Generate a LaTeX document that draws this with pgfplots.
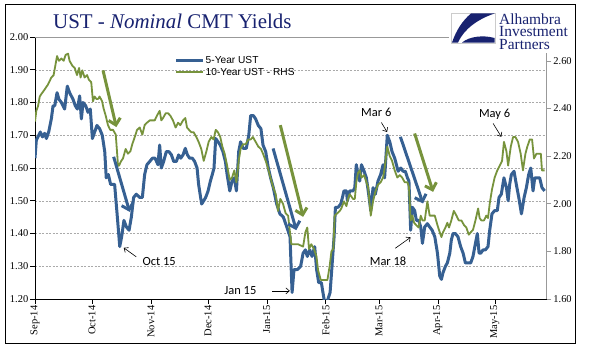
\documentclass[border=0pt]{standalone}
\usepackage{pgfplots}
\pgfplotsset{compat=1.18}
\usepackage{pgfplotstable}
\usepackage{fontspec}
\setmainfont{Liberation Serif}
\newfontfamily\legf{Liberation Sans}
\newfontfamily\annf{Carlito}
\usetikzlibrary{arrows.meta}
\definecolor{navy}{RGB}{24,34,112}
\definecolor{ublue}{RGB}{54,96,146}
\definecolor{ugreen}{RGB}{119,147,60}
\definecolor{gridc}{RGB}{170,170,170}

\pgfplotstableread{
d v
0 1.63
0.7 1.685
2.8 1.71
3.9 1.695
5.1 1.706
6.0 1.69
7.2 1.71
8.6 1.75
9.5 1.79
10.4 1.79
11.6 1.83
12.6 1.81
13.9 1.80
15.6 1.78
17.0 1.85
18.2 1.83
20.0 1.81
21.2 1.79
22.3 1.78
23.5 1.82
24.4 1.75
25.3 1.80
26.7 1.79
27.9 1.77
29.1 1.78
30.2 1.69
31.4 1.71
32.6 1.73
34.0 1.72
35.4 1.70
36.7 1.65
37.5 1.57
38.6 1.58
39.8 1.55
41.9 1.55
43.2 1.46
44.6 1.36
45.6 1.39
46.8 1.44
48.1 1.42
49.5 1.41
50.7 1.45
51.9 1.51
53.3 1.52
55.1 1.51
56.5 1.51
57.7 1.58
58.9 1.61
60.4 1.62
61.8 1.63
63.2 1.63
64.7 1.61
65.6 1.67
66.5 1.60
67.7 1.62
69.1 1.65
70.5 1.65
71.8 1.64
73.0 1.62
74.4 1.62
75.6 1.64
76.7 1.63
77.9 1.64
79.1 1.66
80.2 1.64
81.4 1.63
82.8 1.63
84.0 1.62
85.3 1.60
86.1 1.55
87.7 1.49
88.8 1.50
89.8 1.51
91.1 1.53
92.3 1.56
93.3 1.58
94.2 1.60
95.1 1.69
96.3 1.68
97.5 1.67
98.9 1.65
100.2 1.62
101.1 1.58
102.5 1.53
103.7 1.56
104.9 1.57
106.0 1.53
107.2 1.65
108.2 1.68
109.5 1.66
111.2 1.66
112.5 1.70
113.5 1.76
114.9 1.76
116.1 1.75
117.5 1.73
118.9 1.72
120.0 1.67
121.4 1.65
122.8 1.60
124.0 1.57
125.4 1.54
127.2 1.49
128.9 1.46
130.7 1.45
132.5 1.42
134.2 1.39
135.3 1.22
136.3 1.29
138.1 1.29
139.8 1.30
141.1 1.34
142.3 1.35
143.3 1.33
144.6 1.35
145.8 1.33
147.2 1.36
148.2 1.29
149.3 1.25
150.7 1.25
152.1 1.20
153.2 1.18
154.2 1.20
155.3 1.22
156.3 1.30
157.4 1.39
158.1 1.48
159.5 1.48
160.9 1.49
161.8 1.51
162.6 1.53
163.9 1.53
164.4 1.50
165.6 1.53
167.4 1.53
168.3 1.54
169.1 1.61
170.0 1.58
170.9 1.56
171.8 1.61
173.2 1.59
174.4 1.57
175.6 1.52
176.7 1.47
177.9 1.54
179.1 1.52
180.5 1.56
181.9 1.58
183.2 1.61
184.0 1.57
185.4 1.70
186.7 1.68
187.9 1.65
189.3 1.63
191.1 1.59
192.5 1.60
193.7 1.59
194.9 1.59
196.0 1.57
196.8 1.56
197.7 1.41
198.6 1.48
199.8 1.47
200.7 1.44
201.9 1.44
203.0 1.42
203.9 1.37
205.1 1.42
206.5 1.43
207.7 1.42
209.0 1.41
210.4 1.39
211.8 1.34
213.0 1.27
213.9 1.26
214.7 1.28
216.0 1.30
217.0 1.31
218.3 1.34
219.1 1.38
220.0 1.40
221.2 1.40
222.6 1.39
224.0 1.36
225.3 1.34
226.5 1.31
227.9 1.31
229.3 1.31
230.5 1.33
231.8 1.37
232.8 1.40
233.7 1.34
234.6 1.34
235.8 1.35
237.0 1.35
238.4 1.36
239.3 1.41
240.5 1.46
241.9 1.47
243.3 1.47
244.2 1.51
245.4 1.52
246.8 1.57
248.1 1.54
249.0 1.50
249.8 1.55
250.7 1.58
252.1 1.59
253.3 1.55
254.6 1.51
256.0 1.46
257.4 1.51
258.6 1.54
259.8 1.58
260.9 1.60
262.1 1.53
263.0 1.57
264.4 1.57
265.6 1.57
266.8 1.54
268.2 1.53
}\fiveyr

\pgfplotstableread{
d v
0 2.345
0.7 2.39
1.6 2.41
2.5 2.45
3.3 2.46
5.1 2.48
6.8 2.50
8.6 2.53
9.8 2.54
10.7 2.58
11.6 2.62
12.6 2.60
13.9 2.61
15.1 2.60
16.1 2.625
17.4 2.63
18.2 2.60
19.6 2.58
20.9 2.57
22.1 2.54
23.2 2.57
24.0 2.53
24.9 2.56
26.1 2.53
27.4 2.54
28.4 2.52
29.6 2.51
30.5 2.43
31.4 2.45
32.3 2.44
33.2 2.44
34.0 2.45
35.3 2.43
36.1 2.40
37.2 2.37
38.4 2.33
39.6 2.31
41.1 2.31
42.5 2.29
43.7 2.16
44.2 2.16
45.4 2.18
46.3 2.19
47.7 2.23
48.9 2.21
50.2 2.22
51.2 2.25
52.5 2.28
53.7 2.31
55.1 2.32
56.5 2.29
57.7 2.33
58.9 2.34
60.4 2.35
61.8 2.35
63.0 2.35
64.2 2.37
65.6 2.39
66.5 2.35
67.4 2.36
68.8 2.38
70.0 2.38
71.2 2.37
72.6 2.35
74.0 2.32
75.3 2.34
76.5 2.33
77.9 2.35
79.1 2.36
80.0 2.32
81.1 2.31
82.3 2.30
83.5 2.30
84.9 2.28
86.1 2.26
87.5 2.23
88.8 2.18
90.2 2.22
91.4 2.26
92.8 2.28
94.0 2.27
95.1 2.31
96.3 2.30
97.5 2.28
98.6 2.24
99.8 2.21
101.1 2.16
102.5 2.10
103.7 2.11
104.9 2.14
106.0 2.09
107.2 2.18
108.2 2.23
109.5 2.25
110.9 2.25
112.3 2.27
113.5 2.27
114.7 2.28
116.1 2.26
117.5 2.24
118.9 2.23
120.0 2.21
121.4 2.18
122.6 2.15
123.9 2.11
125.3 2.07
126.7 2.04
127.9 1.97
129.1 2.02
130.5 2.00
131.9 1.96
133.2 1.95
134.9 1.83
136.3 1.83
138.4 1.83
141.1 1.82
142.3 1.88
143.3 1.90
144.2 1.81
145.4 1.83
146.8 1.81
148.1 1.78
149.0 1.72
150.4 1.68
152.5 1.68
153.9 1.68
155.1 1.74
156.0 1.80
157.0 1.81
157.7 1.95
159.1 1.96
160.4 1.97
161.2 1.98
162.6 2.01
163.9 1.99
164.7 2.02
165.6 2.04
167.4 2.02
168.3 2.02
169.1 2.09
170.0 2.13
170.9 2.14
171.8 2.11
173.2 2.12
174.4 2.09
175.3 2.07
176.7 1.95
177.9 2.01
179.1 2.05
180.5 2.08
181.9 2.09
183.2 2.11
184.0 2.15
185.4 2.24
186.7 2.20
187.9 2.18
189.3 2.14
190.7 2.11
191.9 2.12
193.2 2.11
194.6 2.09
196.0 2.09
196.8 2.07
197.7 1.93
198.6 1.95
199.5 1.92
200.7 1.91
201.9 1.90
203.0 1.95
203.9 1.93
205.1 1.93
206.5 2.01
207.7 1.95
209.0 1.95
210.4 1.95
211.8 1.91
213.0 1.88
213.9 1.86
214.7 1.88
216.0 1.90
217.0 1.92
217.9 1.90
219.1 1.93
220.4 1.97
221.8 1.95
223.0 1.93
224.4 1.93
225.8 1.91
227.0 1.90
228.3 1.87
229.3 1.88
230.5 1.89
231.8 1.93
233.2 1.98
234.0 1.94
234.9 1.93
236.3 1.93
237.5 1.95
238.4 1.94
239.3 2.00
240.5 2.06
241.9 2.11
243.3 2.14
244.6 2.16
245.8 2.18
246.8 2.26
248.1 2.22
249.0 2.16
250.4 2.24
251.6 2.28
252.8 2.28
254.2 2.26
255.6 2.21
256.8 2.14
258.1 2.21
259.1 2.24
260.4 2.27
261.6 2.27
262.6 2.19
263.9 2.21
265.1 2.21
266.2 2.21
266.8 2.14
268.2 2.14
}\tenyr

\begin{document}
\begin{tikzpicture}[x=1bp,y=1bp]
\path[use as bounding box] (0,0) rectangle (598,361);
\fill[white] (0,0) rectangle (598,361);

\begin{axis}[
  at={(35bp,62bp)}, anchor=south west, scale only axis,
  width=511.7bp, height=262bp,
  xmin=0, xmax=269.3, ymin=1.2, ymax=2.0,
  axis x line*=bottom, axis y line*=left,
  axis line style={-, black, line width=0.8bp},
  tick align=outside, major tick length=4.5bp,
  tick style={black, line width=0.6bp},
  xtick={0,30,61,91,122,153,181,212,242},
  xticklabels={Sep-14,Oct-14,Nov-14,Dec-14,Jan-15,Feb-15,Mar-15,Apr-15,May-15},
  x tick label style={rotate=90, anchor=east, font=\fontsize{10.5}{11}\selectfont, inner sep=2bp},
  ytick={1.2,1.3,1.4,1.5,1.6,1.7,1.8,1.9,2.0},
  y tick label style={font=\fontsize{10.5}{11}\selectfont, inner sep=2bp},
  /pgf/number format/fixed, /pgf/number format/fixed zerofill,
  /pgf/number format/precision=2, /pgf/number format/assume math mode=true,
  ymajorgrids, major grid style={gridc, line width=0.5bp, dash pattern=on 2bp off 1.5bp},
  legend style={at={(0.2727,0.931)}, anchor=north west, draw=none, fill=none,
    font=\legf\fontsize{10.2}{11}\selectfont, row sep=1.2bp, inner sep=0pt,
    nodes={inner sep=1bp}},
  legend image code/.code={\draw[#1] (0bp,0bp) -- (27bp,0bp);},
  legend cell align=left,
]
\addplot[ublue, line width=3bp, line join=round] table[x=d,y=v]{\fiveyr};
\addlegendentry{5-Year UST}
\addlegendimage{ugreen, line width=1.8bp}
\addlegendentry{10-Year UST - RHS}
\end{axis}

\begin{axis}[
  at={(35bp,62bp)}, anchor=south west, scale only axis,
  width=511.7bp, height=262bp,
  xmin=0, xmax=269.3, ymin=1.6, ymax=2.7,
  axis x line*=top, axis y line*=right,
  axis line style={-, gray!80, line width=0.7bp},
  xtick=\empty,
  tick align=outside, major tick length=4.5bp,
  tick style={gray!80, line width=0.6bp},
  ytick={1.6,1.8,2.0,2.2,2.4,2.6},
  y tick label style={font=\fontsize{10.5}{11}\selectfont, inner sep=2bp},
  /pgf/number format/fixed, /pgf/number format/fixed zerofill,
  /pgf/number format/precision=2, /pgf/number format/assume math mode=true,
]
\addplot[ugreen, line width=1.8bp, line join=round] table[x=d,y=v]{\tenyr};
% big arrows
\draw[ugreen, line width=3bp, -{Straight Barb[length=6bp,width=12bp]}] (axis cs:35.8,2.560) -- (axis cs:42.8,2.322);
\draw[ublue, line width=3bp, -{Straight Barb[length=6bp,width=12bp]}] (axis cs:41.4,2.197) -- (axis cs:49.8,1.966);
\draw[ugreen, line width=3bp, -{Straight Barb[length=6bp,width=12bp]}] (axis cs:129.1,2.330) -- (axis cs:141.1,1.945);
\draw[ublue, line width=3bp, -{Straight Barb[length=6bp,width=12bp]}] (axis cs:125.3,2.232) -- (axis cs:137.5,1.889);
\draw[ublue, line width=3bp, -{Straight Barb[length=6bp,width=12bp]}] (axis cs:192.3,2.281) -- (axis cs:204.2,2.001);
\draw[ugreen, line width=3bp, -{Straight Barb[length=6bp,width=12bp]}] (axis cs:199.8,2.295) -- (axis cs:209.5,2.050);
% small annotations
\tikzset{ann/.style={black, line width=0.6bp, -{Straight Barb[length=3.5bp,width=6bp]}}}
\node[font=\annf\fontsize{12.5}{13}\selectfont, inner sep=0] at (axis cs:65.3,1.759) {Oct 15};
\draw[ann] (axis cs:53.3,1.777) -- (axis cs:46.7,1.815);
\node[font=\annf\fontsize{12.5}{13}\selectfont, inner sep=0] at (axis cs:108.1,1.634) {Jan 15};
\draw[ann] (axis cs:124.9,1.634) -- (axis cs:134.1,1.634);
\node[font=\annf\fontsize{12.5}{13}\selectfont, inner sep=0] at (axis cs:179.6,2.383) {Mar 6};
\draw[ann] (axis cs:182.3,2.341) -- (axis cs:185.3,2.301);
\node[font=\annf\fontsize{12.5}{13}\selectfont, inner sep=0] at (axis cs:185.8,1.759) {Mar 18};
\draw[ann] (axis cs:189.6,1.813) -- (axis cs:197.7,1.859);
\node[font=\annf\fontsize{12.5}{13}\selectfont, inner sep=0] at (axis cs:241.9,2.374) {May 6};
\draw[ann] (axis cs:241.1,2.337) -- (axis cs:245.4,2.281);
\end{axis}

% title
\node[anchor=base west, text=navy, font=\fontsize{21}{21}\selectfont, inner sep=0] at (53,333) {UST - \textit{Nominal} CMT Yields};

% logo
\fill[white] (449,308) rectangle (573,351);
\draw[gray!40, line width=0.6bp] (451,348) rectangle (495,318);
\fill[navy] (471,347.5) -- (494.5,347.5) .. controls (478,342) and (464,332) .. (458,318.5) -- (452,318.5) .. controls (456,330) and (462,340) .. (471,347.5) -- cycle;
\fill[navy] (462,318.5) .. controls (470,325) and (484,326) .. (494.5,323) -- (494.5,318.5) -- cycle;
\node[anchor=base west, text=navy, font=\fontsize{15.5}{15.5}\selectfont, inner sep=0] at (499,337) {Alhambra};
\node[anchor=base west, text=navy, font=\fontsize{15.5}{15.5}\selectfont, inner sep=0] at (499,324.5) {Investment};
\node[anchor=base west, text=navy, font=\fontsize{15.5}{15.5}\selectfont, inner sep=0] at (499,312) {Partners};

% outer frame
\draw[black, line width=1bp] (5,18) rectangle (575,356);
\end{tikzpicture}
\end{document}
